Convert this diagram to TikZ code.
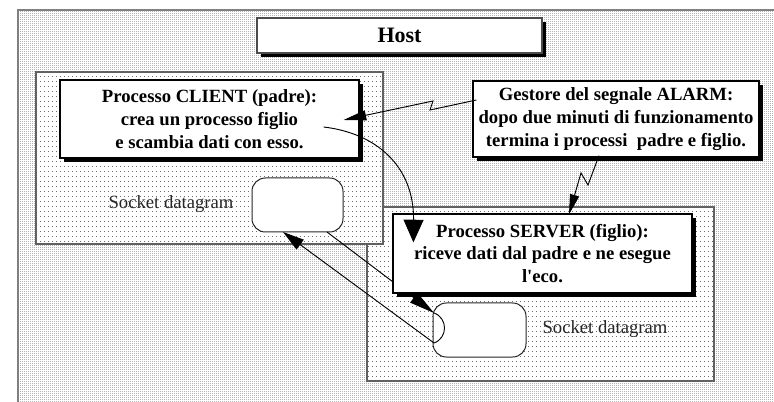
\documentclass[tikz,border=0pt]{standalone}
\usepackage{fontspec}
\setmainfont{Liberation Serif}
\usetikzlibrary{arrows.meta,patterns,shadows,calc}

% fine stipple for the host background
\pgfdeclarepatternformonly{hostgrain}{\pgfqpoint{0pt}{0pt}}{\pgfqpoint{1.5pt}{1.5pt}}{\pgfqpoint{1.5pt}{1.5pt}}%
  {\pgfpathrectangle{\pgfqpoint{0pt}{0pt}}{\pgfqpoint{0.75pt}{0.75pt}}\pgfusepath{fill}}
% sparse dots for the two process areas
\pgfdeclarepatternformonly{areagrain}{\pgfqpoint{0pt}{0pt}}{\pgfqpoint{3pt}{3.75pt}}{\pgfqpoint{3pt}{3.75pt}}%
  {\pgfpathrectangle{\pgfqpoint{0pt}{0pt}}{\pgfqpoint{0.75pt}{0.75pt}}\pgfusepath{fill}}

\begin{document}
\begin{tikzpicture}[x=0.75pt,y=-0.75pt,
  proc/.style={draw=black, line width=0.9pt, fill=white, inner sep=0pt, align=center,
    font=\fontsize{14pt}{17pt}\selectfont\bfseries,
    drop shadow={fill=black, opacity=1, shadow xshift=3pt, shadow yshift=-3pt}},
  area/.style={draw=gray!75!black, line width=0.9pt, inner sep=0pt, fill=white,
    postaction={pattern=areagrain, pattern color=gray!85!black}},
  sock/.style={draw=black!85, line width=0.75pt, fill=white, rounded corners=10pt, inner sep=0pt},
  socktext/.style={font=\fontsize{14pt}{17pt}\selectfont, text=black!85, inner sep=0pt},
  link/.style={draw=black, line width=0.7pt},
]
\useasboundingbox (0,0) rectangle (774,402);
\fill[white] (0,0) rectangle (774,402);

% host background
\path[fill=white, postaction={pattern=hostgrain, pattern color=gray!60!black}]
  (18,10) rectangle (774,402);
\draw[gray, line width=1pt] (18,402) -- (18,10) -- (774,10);

% process areas (the client area lies over the server area)
\node[area, minimum width=260.25pt, minimum height=130.5pt] (serverarea) at (540.5,294) {};
\node[area, minimum width=260.25pt, minimum height=129pt] (clientarea) at (209.5,158) {};

% datagram sockets
\node[sock, minimum width=68.25pt, minimum height=40.5pt] (csock) at (297.5,205) {};
\node[sock, minimum width=69.75pt, minimum height=40.5pt] (ssock) at (479.5,330) {};
\node[socktext] (clabel) at (171,204) {Socket datagram};
\node[socktext] (slabel) at (605,329) {Socket datagram};

% datagram exchange between the two sockets
\coordinate (cout) at (327,232);
\coordinate (sin) at (434,313);
\coordinate (sout) at (434,343);
\coordinate (cin) at (283,232);
\draw[link, -{Triangle[length=19pt,width=9pt]}] (cout) -- (sin);
\draw[link, -{Triangle[length=16pt,width=9pt]}] (sout) -- (cin);
\draw[link] (sin) .. controls (448,318) and (448,338) .. (sout);

% title and process boxes
\node[proc, draw=black!70, minimum width=213.75pt, minimum height=26.25pt,
  font=\fontsize{16.5pt}{19pt}\selectfont\bfseries] (host) at (399.5,35.5) {Host};
\node[proc, minimum width=224.25pt, minimum height=58.5pt] (client) at (209.5,119)
  {Processo CLIENT (padre):\\crea un processo figlio\\e scambia dati con esso.};
\node[proc, minimum width=214.5pt, minimum height=57pt] (alarm) at (616,119)
  {Gestore del segnale ALARM:\\dopo due minuti di funzionamento\\termina i processi\ \ padre e figlio.};
\node[proc, minimum width=224.25pt, minimum height=59.25pt] (server) at (542.5,253.5)
  {Processo SERVER (figlio):\\riceve dati dal padre e ne esegue\\l\textquotesingle eco.};

% signal handler strikes both processes
\coordinate (z1) at (430,110);
\coordinate (z2) at (433,101);
\draw[link, -{Triangle[length=17pt,width=7.5pt]}]
  ($(alarm.west)+(4,-19)$) -- (z1) -- (z2) -- ($(client.east)+(-16,1)$);
\coordinate (z3) at (588,185);
\coordinate (z4) at (581,173);
\draw[link, -{Triangle[length=15pt,width=7pt]}]
  ($(alarm.south)+(-17,-2)$) -- (z3) -- (z4) -- ($(server.north)+(26.5,1)$);

% the client spawns the server
\draw[link, -{Triangle[length=17pt,width=15pt]}]
  ($(client.east)+(-36,8)$) .. controls (375,133) and (414,165) .. ($(server.north west)+(21,29)$);
\end{tikzpicture}
\end{document}
